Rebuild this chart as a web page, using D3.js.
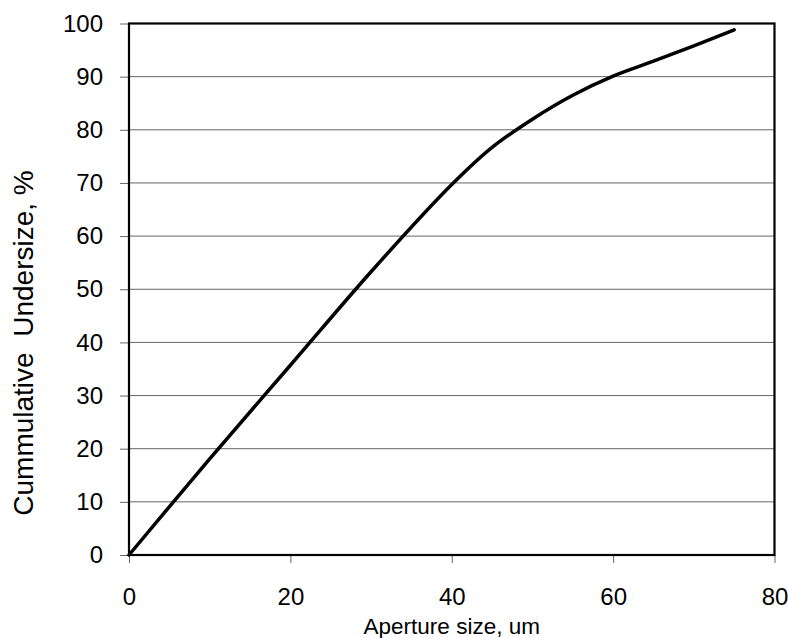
<!DOCTYPE html>
<html>
<head>
<meta charset="utf-8">
<script src="https://cdn.jsdelivr.net/npm/d3@7"></script>
<style>
  body { margin: 0; background: #fff; }
  text { font-family: "Liberation Sans", Arial, sans-serif; fill: #000; }
</style>
</head>
<body>
<svg id="chart" width="788" height="638"></svg>
<script>
const apertureSize = [0, 10, 20, 30, 40, 45, 50, 55, 60, 65, 70, 75];
const cumUndersize = [0, 18.1, 35.7, 53.3, 69.7, 76.7, 82.0, 86.5, 90.1, 92.9, 95.8, 98.8];
const xTicks = [0, 20, 40, 60, 80];
const yTicks = [0, 10, 20, 30, 40, 50, 60, 70, 80, 90, 100];
const xTitle = "Aperture size, um";
const yTitle = "Cummulative\u00a0 Undersize, %";

const svg = d3.select("#chart");
const pLeft = 129, pRight = 774.5, pTop = 23.5, pBottom = 555;
const x = d3.scaleLinear().domain([0, 80]).range([pLeft, pRight]);
const y = d3.scaleLinear().domain([0, 100]).range([pBottom, pTop]);

// gridlines
svg.append("g").selectAll("line").data(yTicks.filter(d => d > 0 && d < 100)).join("line")
  .attr("x1", pLeft).attr("x2", pRight)
  .attr("y1", d => y(d)).attr("y2", d => y(d))
  .attr("stroke", "#666").attr("stroke-width", 1);

// axes
const xAxis = d3.axisBottom(x).tickValues(xTicks).tickSize(8).tickPadding(12).tickFormat(d3.format("d"));
const gx = svg.append("g").attr("transform", `translate(0,${pBottom})`).call(xAxis);
gx.select(".domain").remove();
gx.selectAll(".tick line").attr("stroke", "#666");
gx.selectAll(".tick text").attr("font-size", 24).attr("font-family", "Liberation Sans, Arial, sans-serif").attr("dy", null).attr("y", 49.5);

const yAxis = d3.axisLeft(y).tickValues(yTicks).tickSize(9).tickPadding(17).tickFormat(d3.format("d"));
const gy = svg.append("g").attr("transform", `translate(${pLeft},0)`).call(yAxis);
gy.select(".domain").remove();
gy.selectAll(".tick line").attr("stroke", "#666");
gy.selectAll(".tick text").attr("font-size", 24).attr("font-family", "Liberation Sans, Arial, sans-serif");

// frame
svg.append("rect").attr("x", pLeft).attr("y", pTop)
  .attr("width", pRight - pLeft).attr("height", pBottom - pTop)
  .attr("fill", "none").attr("stroke", "#000").attr("stroke-width", 2.2);

// curve
const line = d3.line().x((d, i) => x(apertureSize[i])).y(d => y(d)).curve(d3.curveCatmullRom.alpha(0.5));
svg.append("path").datum(cumUndersize)
  .attr("d", line).attr("fill", "none").attr("stroke", "#000")
  .attr("stroke-width", 3.5).attr("stroke-linecap", "round").attr("stroke-linejoin", "round");

// titles
svg.append("text").attr("x", (pLeft + pRight) / 2).attr("y", 634)
  .attr("text-anchor", "middle").attr("font-size", 22.5).text(xTitle);
svg.append("text").attr("transform", `translate(33,343) rotate(-90)`)
  .attr("text-anchor", "middle").attr("font-size", 28).text(yTitle);
</script>
</body>
</html>
